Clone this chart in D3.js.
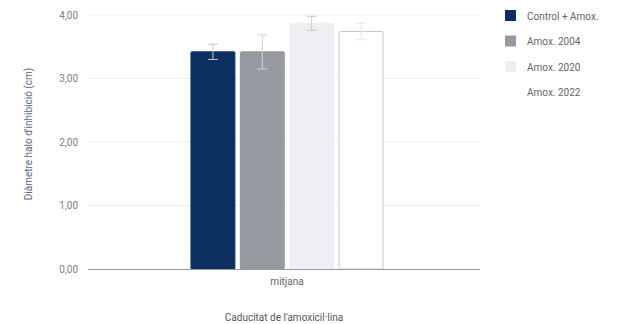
<!DOCTYPE html>
<html>
<head>
<meta charset="utf-8">
<script src="https://cdn.jsdelivr.net/npm/d3@7"></script>
<style>
  body { margin: 0; background: #fff; }
  text { font-family: Roboto, "Liberation Sans", sans-serif; }
</style>
</head>
<body>
<div id="chart-area"></div>
<script>
/*
*    halo chart
*/

const categories = ["mitjana"];
const series = ["Control + Amox.", "Amox. 2004", "Amox. 2020", "Amox. 2022"];
const values = [3.42, 3.42, 3.87, 3.74];
const errors = [0.12, 0.27, 0.11, 0.13];
const yTicks = [0, 1, 2, 3, 4];

const colors = ["#0b3060", "#96999f", "#eeeff3", "#ffffff"];
const strokes = ["#0b3060", "#96999f", "#eeeff3", "#c8c8c8"];
const errColors = ["#c8c8c8", "#d4d4d4", "#c8c8c8", "#e6e6e6"];

const width = 624;
const height = 324;
const margin = {left: 88, right: 144, top: 15, bottom: 55};
const innerW = width - margin.left - margin.right;
const innerH = height - margin.top - margin.bottom;

const svg = d3.select("#chart-area")
    .append("svg")
    .attr("width", width)
    .attr("height", height);

const g = svg.append("g")
    .attr("transform", "translate(" + margin.left + "," + margin.top + ")");

const x = d3.scaleBand()
    .domain(categories)
    .range([4, innerW + 2])
    .paddingInner(0)
    .paddingOuter(0.51);

const xs = d3.scaleBand()
    .domain(series)
    .range([0, x.bandwidth()])
    .paddingInner(0.09);

const y = d3.scaleLinear()
    .domain([0, 4])
    .range([innerH, 0]);

// grid
g.selectAll(".grid")
    .data(yTicks.slice(1))
    .enter()
    .append("line")
        .attr("class", "grid")
        .attr("x1", 0)
        .attr("x2", innerW)
        .attr("y1", d => y(d))
        .attr("y2", d => y(d))
        .attr("stroke", "#efefef");

const leftAxis = d3.axisLeft(y)
    .tickValues(yTicks)
    .tickSize(0)
    .tickPadding(10)
    .tickFormat(d => d3.format(".2f")(d).replace(".", ","));

g.append("g")
    .attr("class", "left axis")
    .call(leftAxis)
    .call(a => a.select(".domain").remove());

g.selectAll(".left.axis text")
    .attr("fill", "#808080")
    .attr("font-size", "10px");

// bars
const grp = g.selectAll(".cat")
    .data(categories)
    .enter()
    .append("g")
        .attr("class", "cat")
        .attr("transform", d => "translate(" + x(d) + ",0)");

const rows = series.map((s, i) => ({s: s, v: values[i], e: errors[i], i: i}));

grp.selectAll("rect")
    .data(rows)
    .enter()
    .append("rect")
        .attr("x", d => xs(d.s) + 0.5)
        .attr("y", d => y(d.v))
        .attr("width", xs.bandwidth() - 1)
        .attr("height", d => innerH - y(d.v))
        .attr("rx", 1)
        .attr("fill", d => colors[d.i])
        .attr("stroke", d => strokes[d.i])
        .attr("stroke-width", 1);

// error bars
const eb = grp.selectAll(".err")
    .data(rows)
    .enter()
    .append("g")
        .attr("class", "err")
        .attr("stroke", d => errColors[d.i])
        .attr("stroke-width", 1);

eb.append("line")
    .attr("x1", d => xs(d.s) + xs.bandwidth() / 2)
    .attr("x2", d => xs(d.s) + xs.bandwidth() / 2)
    .attr("y1", d => y(d.v + d.e))
    .attr("y2", d => y(d.v - d.e));

eb.append("line")
    .attr("x1", d => xs(d.s) + xs.bandwidth() / 2 - 5)
    .attr("x2", d => xs(d.s) + xs.bandwidth() / 2 + 5)
    .attr("y1", d => y(d.v + d.e))
    .attr("y2", d => y(d.v + d.e));

eb.append("line")
    .attr("x1", d => xs(d.s) + xs.bandwidth() / 2 - 5)
    .attr("x2", d => xs(d.s) + xs.bandwidth() / 2 + 5)
    .attr("y1", d => y(d.v - d.e))
    .attr("y2", d => y(d.v - d.e));

// baseline + x axis
const bottomAxis = d3.axisBottom(x)
    .tickSize(0)
    .tickPadding(9);

g.append("g")
    .attr("class", "bottom axis")
    .attr("transform", "translate(0," + innerH + ")")
    .call(bottomAxis)
    .call(a => a.select(".domain").attr("stroke", "#9a9a9a").attr("d", "M0,0.5H" + innerW));

g.selectAll(".bottom.axis text")
    .attr("fill", "#666")
    .attr("font-size", "10px");

g.append("text")
    .attr("x", innerW / 2)
    .attr("y", innerH + 52)
    .attr("font-size", "10px")
    .attr("text-anchor", "middle")
    .attr("fill", "#555")
    .text("Caducitat de l'amoxicil·lina");

g.append("text")
    .attr("x", -(innerH / 2) + 8)
    .attr("y", -56)
    .attr("font-size", "10px")
    .attr("text-anchor", "middle")
    .attr("transform", "rotate(-90)")
    .attr("fill", "#5a6a80")
    .text("Diàmetre halo d'inhibició (cm)");

// legend
const legend = svg.append("g")
    .attr("transform", "translate(505,10)");

const li = legend.selectAll(".item")
    .data(series)
    .enter()
    .append("g")
        .attr("class", "item")
        .attr("transform", (d, i) => "translate(0," + (i * 25.5) + ")");

li.append("rect")
    .attr("width", 11)
    .attr("height", 11)
    .attr("fill", (d, i) => colors[i]);

li.append("text")
    .attr("x", 22)
    .attr("y", 9.5)
    .attr("font-size", "10px")
    .attr("fill", "#666")
    .text(d => d);
</script>
</body>
</html>
